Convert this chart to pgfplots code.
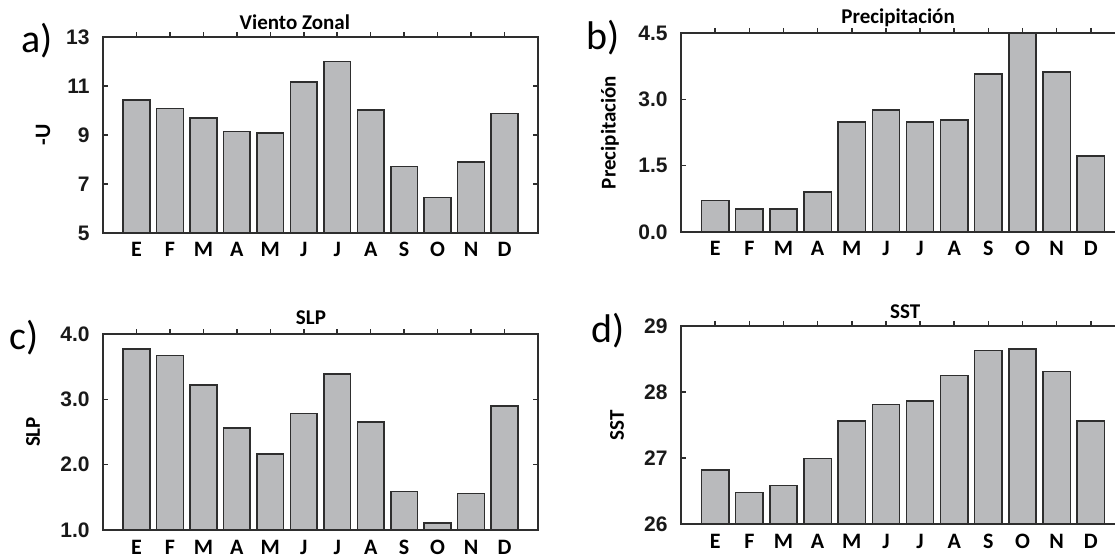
\documentclass[border=0pt]{standalone}
\usepackage{fontspec}
\usepackage{pgfplots}
\pgfplotsset{compat=1.18}
\newfontfamily\carlito{Carlito}
\newfontfamily\arialf{Liberation Sans}
\definecolor{barfill}{HTML}{B9BABC}
\definecolor{edge}{HTML}{2E2E2E}
\pgfplotsset{
  every axis title shift=0pt,
  panel/.style={
    scale only axis,
    anchor=south west,
    xmin=0, xmax=13,
    xtick={1,...,12},
    xticklabels={E,F,M,A,M,J,J,A,S,O,N,D},
    xtick pos=right, xticklabel pos=left,
    ytick pos=both, yticklabel pos=left,
    tick align=inside,
    major tick length=2.5pt,
    axis line style={draw=edge, line width=0.75pt},
    every tick/.style={draw=edge, line width=0.75pt},
    xticklabel style={font=\carlito\bfseries\fontsize{11}{12}\selectfont, anchor=base, inner sep=0pt, yshift=-9.5pt},
    yticklabel style={font=\arialf\bfseries\fontsize{10.5}{11}\selectfont, anchor=east, inner sep=0pt, xshift=-6.5pt, text=black!90},
    title style={font=\carlito\bfseries\fontsize{10.5}{11}\selectfont, anchor=center},
    ylabel style={font=\carlito\bfseries\fontsize{10.5}{11}\selectfont, anchor=center},
    ybar, bar width=0.8,
  },
  bars/.style={fill=barfill, draw=edge, line width=0.75pt},
}
\begin{document}
\begin{tikzpicture}
\useasboundingbox (0,0) rectangle (557.5pt,279pt);
\clip (0,0) rectangle (557.5pt,279pt);
% a) Viento Zonal
\begin{axis}[panel, at={(51.5pt,162.5pt)}, width=217.5pt, height=98pt,
  ymin=5, ymax=13, ytick={5,7,9,11,13}, yticklabels={5,7,9,11,13},
  title={Viento Zonal}, title style={at={(axis description cs:0.441,1.077)}},
  ylabel={-U}, ylabel style={at={(axis description cs:-0.138,0.5)}, font=\carlito\bfseries\fontsize{11}{12}\selectfont}]
\addplot[bars] coordinates {(1,10.42) (2,10.08) (3,9.69) (4,9.15) (5,9.09) (6,11.16) (7,12.0) (8,10.03) (9,7.71) (10,6.45) (11,7.89) (12,9.88)};
\end{axis}
% b) Precipitacion
\begin{axis}[panel, at={(340.5pt,163pt)}, width=222pt, height=99.5pt,
  ymin=0, ymax=4.5, ytick={0,1.5,3,4.5}, yticklabels={0.0,1.5,3.0,4.5},
  title={Precipitación}, title style={at={(axis description cs:0.489,1.075)}},
  ylabel={Precipitación}, ylabel style={at={(axis description cs:-0.160,0.5)}}]
\addplot[bars] coordinates {(1,0.71) (2,0.52) (3,0.52) (4,0.90) (5,2.49) (6,2.76) (7,2.49) (8,2.53) (9,3.57) (10,4.5) (11,3.62) (12,1.72)};
\end{axis}
% c) SLP
\begin{axis}[panel, at={(51.5pt,14pt)}, width=217.5pt, height=98pt,
  ymin=1, ymax=4, ytick={1,2,3,4}, yticklabels={1.0,2.0,3.0,4.0},
  title={SLP}, title style={at={(axis description cs:0.478,1.082)}},
  ylabel={SLP}, ylabel style={at={(axis description cs:-0.161,0.5)}}]
\addplot[bars] coordinates {(1,3.77) (2,3.67) (3,3.22) (4,2.56) (5,2.16) (6,2.78) (7,3.39) (8,2.65) (9,1.59) (10,1.11) (11,1.56) (12,2.90)};
\end{axis}
% d) SST
\begin{axis}[panel, at={(340.5pt,17pt)}, width=222pt, height=99pt,
  ymin=26, ymax=29, ytick={26,27,28,29}, yticklabels={26,27,28,29},
  title={SST}, title style={at={(axis description cs:0.505,1.071)}},
  ylabel={SST}, ylabel style={at={(axis description cs:-0.144,0.5)}}]
\addplot[bars] coordinates {(1,26.82) (2,26.48) (3,26.58) (4,26.99) (5,27.56) (6,27.81) (7,27.86) (8,28.25) (9,28.63) (10,28.65) (11,28.31) (12,27.56)};
\end{axis}
\node[anchor=base west, inner sep=0pt, font=\carlito\fontsize{20}{22}\selectfont] at (10.5pt,252.5pt) {a)};
\node[anchor=base west, inner sep=0pt, font=\carlito\fontsize{20}{22}\selectfont] at (293pt,254pt) {b)};
\node[anchor=base west, inner sep=0pt, font=\carlito\fontsize{20}{22}\selectfont] at (4.5pt,104pt) {c)};
\node[anchor=base west, inner sep=0pt, font=\carlito\fontsize{20}{22}\selectfont] at (295.5pt,107.5pt) {d)};
\end{tikzpicture}
\end{document}
